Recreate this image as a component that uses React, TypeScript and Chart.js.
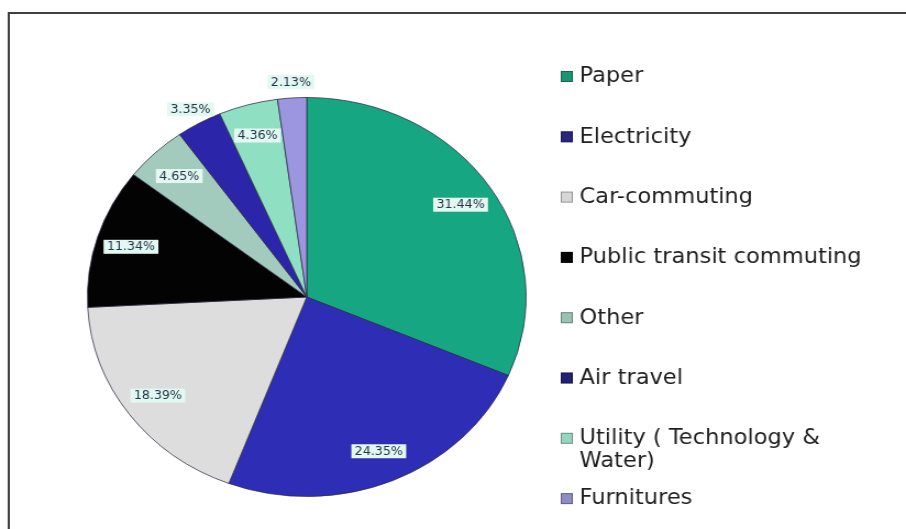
import React, { useEffect, useRef } from "react";
import { Chart, registerables } from "chart.js";

Chart.register(...registerables);

// Emission sources and their share of the footprint (%)
const categories = [
  "Paper",
  "Electricity",
  "Car-commuting",
  "Public transit commuting",
  "Other",
  "Air travel",
  "Utility ( Technology & Water)",
  "Furnitures",
];
const legendLines = [
  ["Paper"],
  ["Electricity"],
  ["Car-commuting"],
  ["Public transit commuting"],
  ["Other"],
  ["Air travel"],
  ["Utility ( Technology &", "Water)"],
  ["Furnitures"],
];
const shares = [31.44, 24.35, 18.39, 11.34, 4.65, 3.35, 4.36, 2.13];
const sliceColors = [
  "#17a682",
  "#2e2db6",
  "#dddddd",
  "#030303",
  "#a3cbbd",
  "#2b26a9",
  "#8fdfc3",
  "#9b96df",
];
const legendSwatchColors = [
  "#1c9474",
  "#28287e",
  "#d6d6d6",
  "#050505",
  "#98c2b2",
  "#222272",
  "#96d6c0",
  "#8e8cc4",
];

const CANVAS_W = 824;
const CANVAS_H = 529;
const STRETCH_X = 906 / CANVAS_W;

// White page with the frame's top and left edges
const framePlugin = {
  id: "frame",
  beforeDraw(chart: any) {
    const ctx = chart.ctx;
    ctx.save();
    ctx.fillStyle = "#ffffff";
    ctx.fillRect(0, 0, chart.width, chart.height);
    ctx.strokeStyle = "#3f3f3f";
    ctx.lineWidth = 2;
    ctx.beginPath();
    ctx.moveTo(8, chart.height);
    ctx.lineTo(8, 13);
    ctx.lineTo(chart.width, 13);
    ctx.stroke();
    ctx.restore();
  },
};

// Percentage tags: inside the slice, or just outside for thin slices
const sliceLabelPlugin = {
  id: "sliceLabels",
  afterDatasetsDraw(chart: any) {
    const ctx = chart.ctx;
    const meta = chart.getDatasetMeta(0);
    const values = chart.data.datasets[0].data as number[];
    ctx.save();
    ctx.font = '11.5px "DejaVu Sans"';
    ctx.textAlign = "center";
    ctx.textBaseline = "middle";
    meta.data.forEach((arc: any, i: number) => {
      const { x, y, startAngle, endAngle, outerRadius } = arc.getProps(
        ["x", "y", "startAngle", "endAngle", "outerRadius"],
        true
      );
      const mid = (startAngle + endAngle) / 2;
      const frac = values[i] < 3.5 ? 1.08 : 0.84;
      const px = x + Math.cos(mid) * outerRadius * frac;
      const py = y + Math.sin(mid) * outerRadius * frac;
      const text = values[i].toFixed(2) + "%";
      const w = ctx.measureText(text).width;
      ctx.fillStyle = "#e3f8f1";
      ctx.fillRect(px - w / 2 - 3, py - 7, w + 6, 14);
      ctx.fillStyle = "#22364a";
      ctx.fillText(text, px, py + 0.5);
    });
    ctx.restore();
  },
};

// Legend column on the right
const legendPlugin = {
  id: "sideLegend",
  afterDraw(chart: any) {
    const ctx = chart.ctx;
    ctx.save();
    ctx.font = '20.5px "DejaVu Sans"';
    ctx.textAlign = "left";
    ctx.textBaseline = "middle";
    legendLines.forEach((lines, i) => {
      const cy = 76 + i * 60.3;
      ctx.fillStyle = legendSwatchColors[i];
      ctx.fillRect(510, cy - 5, 11, 11);
      ctx.strokeStyle = "rgba(0,0,0,0.3)";
      ctx.lineWidth = 1;
      ctx.strokeRect(510.5, cy - 4.5, 10, 10);
      ctx.fillStyle = "#1f1f1f";
      lines.forEach((line, k) => {
        ctx.fillText(line, 527, cy + 1 + k * 23);
      });
    });
    ctx.restore();
  },
};

export default function App() {
  const canvasRef = useRef<HTMLCanvasElement | null>(null);

  useEffect(() => {
    if (!canvasRef.current) return;
    const chart = new Chart(canvasRef.current, {
      type: "pie",
      data: {
        labels: categories,
        datasets: [
          {
            data: shares,
            backgroundColor: sliceColors,
            borderColor: "rgba(45,45,70,0.75)",
            borderWidth: 1,
          },
        ],
      },
      options: {
        animation: false,
        responsive: false,
        devicePixelRatio: 1,
        layout: { padding: { left: 79, right: 345, top: 97, bottom: 32 } },
        plugins: {
          legend: { display: false },
          tooltip: { enabled: false },
          title: { display: false },
        },
      },
      plugins: [framePlugin, sliceLabelPlugin, legendPlugin],
    });
    return () => chart.destroy();
  }, []);

  return (
    <div
      style={{
        position: "absolute",
        left: 0,
        top: 0,
        width: CANVAS_W,
        height: CANVAS_H,
        transform: `scaleX(${STRETCH_X})`,
        transformOrigin: "0 0",
      }}
    >
      <canvas ref={canvasRef} width={CANVAS_W} height={CANVAS_H} />
    </div>
  );
}
